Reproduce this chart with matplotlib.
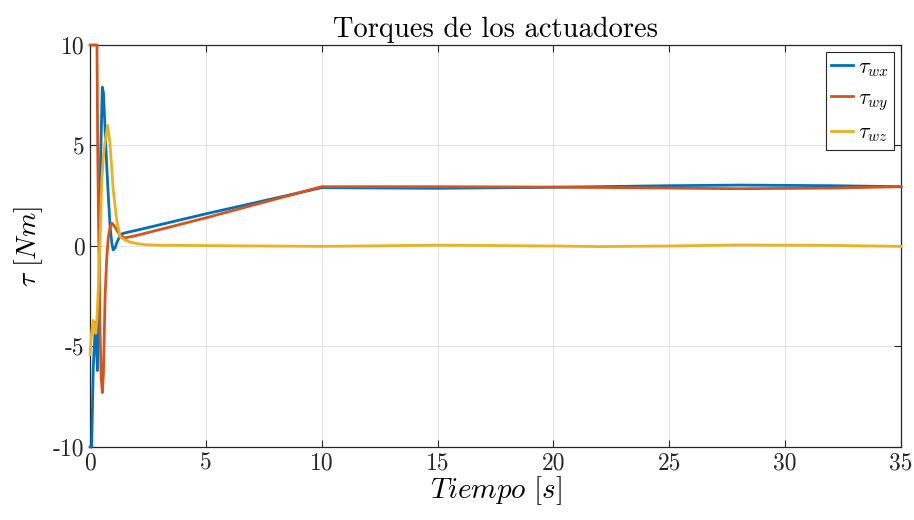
import matplotlib
matplotlib.use("Agg")
import matplotlib.pyplot as plt

# --- data (time in s, torque in Nm) ---
t_wx = [0, 0.07, 0.14, 0.24, 0.32, 0.39, 0.46, 0.53, 0.58, 0.65, 0.72, 0.79, 0.87, 0.94,
        1.0, 1.08, 1.15, 1.25, 1.37, 1.5, 2.0, 5.0, 10.0, 15.0, 20.0, 25.0, 28.0, 32.0, 35.0]
tau_wx = [-10, -10, -6.0, -3.8, -6.2, -2.0, 4.5, 7.9, 7.6, 5.8, 4.0, 2.45, 0.9, 0.15,
          -0.2, -0.1, 0.15, 0.4, 0.6, 0.65, 0.78, 1.6, 2.9, 2.87, 2.92, 3.0, 3.03, 3.0, 2.95]

t_wy = [0, 0.3, 0.33, 0.38, 0.43, 0.48, 0.53, 0.58, 0.65, 0.72, 0.79, 0.87, 0.94,
        1.08, 1.2, 1.3, 1.5, 2.0, 5.0, 10.0, 15.0, 20.0, 25.0, 28.0, 32.0, 35.0]
tau_wy = [10, 10, 5.0, 0.0, -4.0, -6.5, -7.3, -6.3, -2.5, -0.6, 0.46, 0.95, 1.14,
          0.95, 0.7, 0.55, 0.4, 0.52, 1.4, 2.95, 2.95, 2.93, 2.88, 2.85, 2.88, 2.95]

t_wz = [0, 0.07, 0.13, 0.19, 0.25, 0.3, 0.38, 0.45, 0.51, 0.58, 0.65, 0.76, 0.86,
        1.0, 1.15, 1.3, 1.5, 1.72, 2.0, 2.45, 3.0, 5.0, 10.0, 15.0, 20.0, 22.0, 25.0,
        28.0, 32.0, 35.0]
tau_wz = [-5.4, -4.3, -3.7, -4.0, -4.35, -3.6, -1.5, 1.0, 3.3, 4.5, 5.2, 6.0, 5.1,
          2.8, 1.3, 0.45, 0.3, 0.2, 0.12, 0.06, 0.04, 0.02, -0.02, 0.04, 0.0, -0.03, 0.0,
          0.05, 0.03, -0.02]

labels = [r"$\tau_{wx}$", r"$\tau_{wy}$", r"$\tau_{wz}$"]
colors = ["#0072BD", "#D95319", "#EDB120"]

xticks = [0, 5, 10, 15, 20, 25, 30, 35]
yticks = [-10, -5, 0, 5, 10]

plt.rcParams.update({
    "font.family": "serif",
    "font.serif": ["cmr10"],
    "mathtext.fontset": "cm",
    "axes.formatter.use_mathtext": True,
})

fig = plt.figure(figsize=(9.14, 5.2), dpi=100)
ax = fig.add_axes([0.0985, 0.1404, 0.8873, 0.7731])

for t, v, lab, c in zip([t_wx, t_wy, t_wz], [tau_wx, tau_wy, tau_wz], labels, colors):
    # lines sit on top of the frame, like in the original (saturation at +-10 visible)
    ax.plot(t, v, color=c, lw=2.0, label=lab, solid_joinstyle="round",
            clip_on=False, zorder=3)

ax.set_xlim(0, 35)
ax.set_ylim(-10, 10)
ax.set_xticks(xticks)
ax.set_xticklabels([str(x) for x in xticks])
ax.set_yticks(yticks)
ax.set_yticklabels([str(y) for y in yticks])
ax.tick_params(direction="in", length=5, width=0.8, top=True, right=True,
               labelsize=17, colors="#262626", pad=4)
ax.grid(True, color="#e3e3e3", lw=0.8)
ax.set_axisbelow(True)
for s in ax.spines.values():
    s.set_color("#262626")
    s.set_linewidth(0.9)
    s.set_zorder(2)

ax.set_title("Torques de los actuadores", fontsize=20.5, pad=6)
ax.set_xlabel(r"$Tiempo\ [s]$", fontsize=21, labelpad=0)
ax.set_ylabel(r"$\tau\ [Nm]$", fontsize=20, labelpad=6)

leg = ax.legend(loc="upper right", fontsize=16, fancybox=False, framealpha=1,
                edgecolor="#262626", handlelength=1.0, handletextpad=0.2,
                borderpad=0.25, labelspacing=0.45, borderaxespad=0.3)
leg.get_frame().set_linewidth(0.8)
leg.set_zorder(5)

fig.savefig("out.png", dpi=100)
